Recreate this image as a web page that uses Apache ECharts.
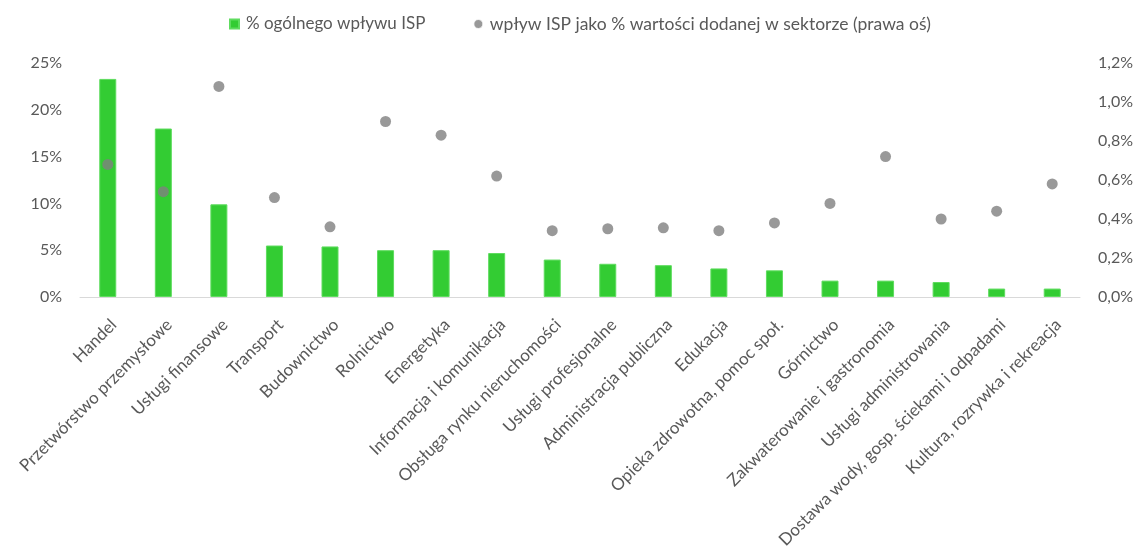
<!DOCTYPE html>
<html>
<head>
<meta charset="utf-8">
<script src="https://cdn.jsdelivr.net/npm/echarts@6/dist/echarts.min.js"></script>
<style>
  html, body { margin: 0; padding: 0; background: #ffffff; }
  #chart { width: 1136px; height: 548px; }
</style>
</head>
<body>
<div id="chart"></div>
<script>
// Sectors, ordered by share of the total ISP impact
const categories = [
  'Handel', 'Przetwórstwo przemysłowe', 'Usługi finansowe', 'Transport',
  'Budownictwo', 'Rolnictwo', 'Energetyka', 'Informacja i komunikacja',
  'Obsługa rynku nieruchomości', 'Usługi profesjonalne', 'Administracja publiczna',
  'Edukacja', 'Opieka zdrowotna, pomoc społ.', 'Górnictwo',
  'Zakwaterowanie i gastronomia', 'Usługi administrowania',
  'Dostawa wody, gosp. ściekami i odpadami', 'Kultura, rozrywka i rekreacja'
];
// % of the total ISP impact (left axis)
const shareOfTotal = [23.3, 18.0, 9.9, 5.5, 5.4, 5.0, 5.0, 4.7, 4.0, 3.55, 3.4, 3.05, 2.85, 1.75, 1.75, 1.6, 0.9, 0.9];
// ISP impact as % of the sector's value added (right axis)
const shareOfValueAdded = [0.68, 0.54, 1.08, 0.51, 0.36, 0.90, 0.83, 0.62, 0.34, 0.35, 0.355, 0.34, 0.38, 0.48, 0.72, 0.40, 0.44, 0.58];

const seriesNames = ['% ogólnego wpływu ISP', 'wpływ ISP jako % wartości dodanej w sektorze (prawa oś)'];
const leftTicks = { min: 0, max: 25, interval: 5 };
const rightTicks = { min: 0, max: 1.2, interval: 0.2 };

const textColor = '#595959';
const fontFamily = 'Lato, "Open Sans", sans-serif';

const chart = echarts.init(document.getElementById('chart'), null, { renderer: 'canvas' });
chart.setOption({
  animation: false,
  textStyle: { fontFamily: fontFamily, color: textColor },
  legend: {
    top: 10,
    left: 224,
    itemGap: 48,
    itemWidth: 9,
    itemHeight: 9,
    textStyle: { fontSize: 17.5, color: textColor, fontFamily: fontFamily, padding: [0, 0, 0, 2] },
    data: [
      { name: seriesNames[0], icon: 'rect', textStyle: { fontSize: 17 } },
      { name: seriesNames[1], icon: 'circle', itemStyle: { borderWidth: 1, borderColor: '#fff' } }
    ]
  },
  grid: {
    left: 80, right: 56, top: 63, bottom: 251,
    containLabel: false,
    outerBoundsMode: 'none'
  },
  xAxis: {
    type: 'category',
    data: categories,
    axisLine: { lineStyle: { color: '#d9d9d9', width: 1 } },
    axisTick: { show: false },
    axisLabel: {
      interval: 0,
      rotate: 45,
      fontSize: 17,
      color: textColor,
      fontFamily: fontFamily,
      align: 'right',
      verticalAlign: 'top',
      margin: 19
    }
  },
  yAxis: [
    {
      type: 'value',
      min: leftTicks.min, max: leftTicks.max, interval: leftTicks.interval,
      splitLine: { show: false },
      axisLine: { show: false },
      axisTick: { show: false },
      axisLabel: { fontSize: 16, color: textColor, margin: 18, formatter: v => v + '%' }
    },
    {
      type: 'value',
      position: 'right',
      min: rightTicks.min, max: rightTicks.max, interval: rightTicks.interval,
      splitLine: { show: false },
      axisLine: { show: false },
      axisTick: { show: false },
      axisLabel: { fontSize: 16, color: textColor, margin: 18, formatter: v => v.toFixed(1).replace('.', ',') + '%' }
    }
  ],
  series: [
    {
      name: seriesNames[0],
      type: 'bar',
      yAxisIndex: 0,
      data: shareOfTotal,
      barWidth: 17,
      itemStyle: { color: '#33cc33', borderColor: '#5fdc5f', borderWidth: 1 }
    },
    {
      name: seriesNames[1],
      type: 'scatter',
      yAxisIndex: 1,
      data: shareOfValueAdded,
      symbol: 'circle',
      symbolSize: 11,
      itemStyle: { color: '#808080' }
    }
  ]
});
</script>
</body>
</html>
